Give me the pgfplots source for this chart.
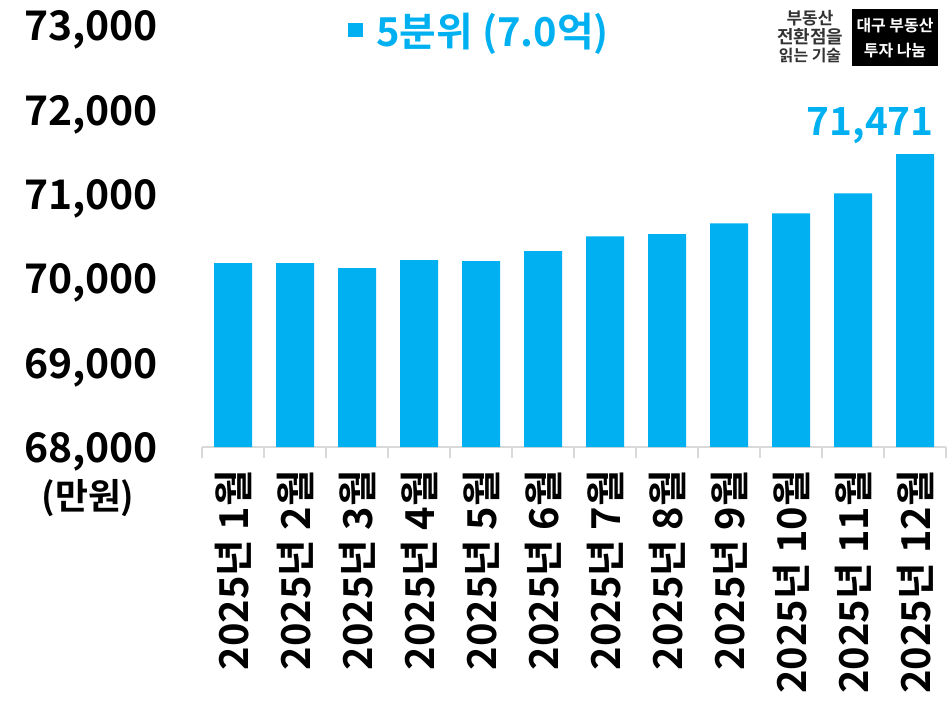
\documentclass[border=0pt]{standalone}
\usepackage{pgfplots}
\pgfplotsset{compat=1.18}
\usepackage{fontspec}
\setmainfont{Noto Sans CJK KR Bold}
\definecolor{barblue}{HTML}{00B0F0}
\definecolor{axisgray}{HTML}{D9D9D9}
\definecolor{logogray}{HTML}{333333}
\begin{document}
\begin{tikzpicture}
\useasboundingbox (0,0) rectangle (948bp,710bp);
\begin{axis}[
  at={(202bp,263bp)}, anchor=south west,
  scale only axis, width=744bp, height=422bp,
  ybar, bar width=38bp, bar shift=0pt,
  xmin=-0.5, xmax=11.5, ymin=68000, ymax=73000,
  ytick={68000,69000,70000,71000,72000,73000},
  scaled y ticks=false,
  /pgf/number format/1000 sep={,},
  /pgf/number format/assume math mode=true,
  yticklabel style={font=\fontsize{41}{41}\selectfont, inner sep=0pt, yshift=-5bp},
  yticklabel shift=44bp,
  xtick={0,1,2,3,4,5,6,7,8,9,10,11},
  xticklabels={2025년 1월,2025년 2월,2025년 3월,2025년 4월,2025년 5월,2025년 6월,2025년 7월,2025년 8월,2025년 9월,2025년 10월,2025년 11월,2025년 12월},
  xticklabel style={rotate=90, anchor=east, inner sep=0pt, font=\fontsize{40}{40}\selectfont},
  xticklabel shift=23bp,
  axis x line*=bottom, axis y line*=left,
  x axis line style={draw=axisgray, line width=1.2bp, -},
  y axis line style={draw=none},
  ytick style={draw=none},
  xtick style={draw=axisgray, line width=1.2bp},
  major tick length=0pt,
  extra x ticks={-0.5,0.5,1.5,2.5,3.5,4.5,5.5,6.5,7.5,8.5,9.5,10.5,11.5},
  extra x tick labels={},
  extra x tick style={major tick length=11bp, tick align=outside, xtick style={draw=axisgray, line width=1.2bp}},
  legend style={at={(0.3716,0.987)}, anchor=center, draw=none, fill=none,
    font=\fontsize{40}{40}\selectfont, text=barblue, inner sep=0pt, nodes={inner sep=0pt}},
  legend image code/.code={\fill[barblue] (0bp,-7bp) rectangle (15bp,7bp); \path (28bp,0bp);},
  clip=false,
]
\addplot[fill=barblue, draw=none] coordinates {
  (0,70178) (1,70178) (2,70118) (3,70213) (4,70201) (5,70320)
  (6,70497) (7,70521) (8,70651) (9,70769) (10,71006) (11,71471)
};
\addlegendentry{5분위 (7.0억)}
\node[anchor=south east, inner sep=0pt, text=barblue, font=\fontsize{39}{39}\selectfont] at (axis cs:11.306,71471) [yshift=10bp] {71,471};
\end{axis}
\node[font=\fontsize{36}{36}\selectfont] at (88bp,212bp) {(만원)};
\node[text=logogray, font=\fontsize{17}{17}\selectfont] at (810bp,692bp) {부동산};
\node[text=logogray, font=\fontsize{18}{18}\selectfont] at (810bp,673bp) {전환점을};
\node[text=logogray, font=\fontsize{16}{16}\selectfont] at (810bp,654bp) {읽는 기술};
\fill[black] (852bp,644bp) rectangle (938bp,701bp);
\node[text=white, font=\fontsize{16}{16}\selectfont] at (895bp,684bp) {대구 부동산};
\node[text=white, font=\fontsize{16}{16}\selectfont] at (895bp,659bp) {투자 나눔};
\end{tikzpicture}
\end{document}
